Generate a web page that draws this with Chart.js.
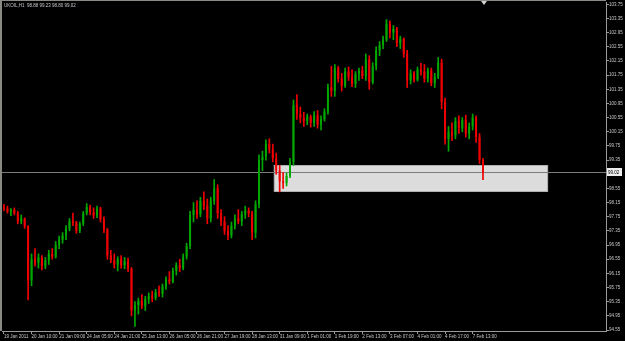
<!DOCTYPE html>
<html>
<head>
<meta charset="utf-8">
<script src="https://cdn.jsdelivr.net/npm/chart.js@4.4.0/dist/chart.umd.min.js"></script>
<style>
  html, body { margin: 0; padding: 0; background: #000; overflow: hidden; }
  canvas { display: block; }
</style>
</head>
<body>
<canvas id="myChart" width="625" height="341"></canvas>
<script>
// UKOIL candles, one per 2 hours
const opens = [
  98.02, 97.98, 97.90, 97.95, 97.85, 97.62, 97.70, 97.48, 95.95, 96.55,
  96.45, 96.60, 96.35, 96.52, 96.70, 96.62, 96.95, 97.10, 97.22, 97.42,
  97.62, 97.58, 97.35, 97.55, 97.85, 98.02, 97.88, 97.78, 97.98, 97.68,
  97.38, 96.65, 96.52, 96.40, 96.55, 96.38, 96.50, 96.28, 95.10, 95.25,
  95.38, 95.22, 95.42, 95.50, 95.45, 95.62, 95.58, 95.78, 95.98, 95.92,
  96.22, 96.38, 96.30, 96.62, 96.92, 97.80, 97.95, 97.82, 98.20, 98.05,
  97.70, 98.20, 98.55, 97.85, 97.62, 97.35, 97.22, 97.50, 97.70, 97.62,
  97.82, 97.92, 97.85, 97.30, 98.10, 99.35, 99.45, 99.80, 99.65, 99.40,
  99.05, 98.75, 98.70, 98.90, 99.30, 100.90, 100.65, 100.55, 100.45, 100.58,
  100.40, 100.62, 100.35, 100.50, 100.72, 101.40, 101.30, 101.95, 101.65, 101.45,
  101.85, 101.70, 101.50, 101.78, 101.88, 101.72, 102.20, 101.55, 102.00, 102.45,
  102.60, 102.75, 103.20, 102.95, 103.05, 102.65, 102.78, 102.35, 101.60, 101.80,
  101.62, 101.90, 101.85, 101.65, 101.88, 101.52, 101.70, 102.10, 101.00, 99.95,
  100.15, 100.05, 100.45, 100.25, 100.48, 100.10, 100.30, 100.55, 100.00, 99.35
];
const highs = [
  98.10, 98.05, 97.98, 98.00, 97.90, 97.80, 97.72, 97.50, 96.70, 96.85,
  96.70, 96.65, 96.60, 96.80, 96.85, 97.05, 97.20, 97.30, 97.50, 97.70,
  97.85, 97.62, 97.60, 97.90, 98.12, 98.08, 98.00, 98.05, 98.02, 97.75,
  97.42, 96.80, 96.70, 96.62, 96.65, 96.60, 96.58, 96.32, 95.35, 95.45,
  95.55, 95.50, 95.60, 95.65, 95.70, 95.80, 95.85, 96.05, 96.20, 96.30,
  96.45, 96.55, 96.70, 97.00, 97.90, 98.15, 98.20, 98.30, 98.45, 98.25,
  98.30, 98.80, 98.65, 97.95, 97.75, 97.50, 97.60, 97.80, 97.95, 97.90,
  98.05, 98.00, 97.90, 98.20, 99.50, 99.60, 99.92, 99.95, 99.80, 99.55,
  99.20, 99.00, 98.98, 99.40, 101.05, 101.20, 100.85, 100.70, 100.65, 100.62,
  100.72, 100.75, 100.60, 100.80, 101.50, 102.00, 102.05, 102.00, 101.80, 101.95,
  101.98, 101.90, 101.85, 101.95, 102.00, 102.35, 102.30, 102.10, 102.55, 102.70,
  102.85, 103.32, 103.28, 103.15, 103.10, 102.85, 102.80, 102.45, 101.90, 101.85,
  101.98, 102.08, 102.05, 101.95, 101.95, 101.80, 102.25, 102.20, 101.10, 100.30,
  100.40, 100.55, 100.60, 100.55, 100.62, 100.40, 100.65, 100.60, 100.10, 99.40
];
const lows = [
  97.92, 97.85, 97.78, 97.80, 97.55, 97.55, 97.42, 95.40, 95.80, 96.35,
  96.30, 96.25, 96.28, 96.40, 96.55, 96.58, 96.85, 97.00, 97.10, 97.35,
  97.50, 97.28, 97.30, 97.50, 97.80, 97.80, 97.70, 97.72, 97.60, 97.30,
  96.55, 96.45, 96.30, 96.22, 96.30, 96.28, 96.20, 94.95, 94.65, 95.00,
  95.15, 95.10, 95.30, 95.35, 95.40, 95.50, 95.48, 95.70, 95.85, 95.88,
  96.10, 96.20, 96.25, 96.55, 96.85, 97.60, 97.70, 97.75, 97.95, 97.55,
  97.60, 98.10, 97.70, 97.50, 97.25, 97.10, 97.15, 97.40, 97.55, 97.50,
  97.70, 97.75, 97.10, 97.15, 98.00, 99.05, 99.35, 99.55, 99.30, 98.95,
  98.45, 98.55, 98.62, 98.85, 99.20, 100.50, 100.40, 100.30, 100.35, 100.28,
  100.30, 100.25, 100.20, 100.45, 100.65, 101.15, 101.15, 101.55, 101.30, 101.40,
  101.60, 101.42, 101.40, 101.60, 101.65, 101.60, 101.35, 101.50, 101.90, 102.30,
  102.50, 102.70, 102.80, 102.75, 102.55, 102.50, 102.25, 101.40, 101.50, 101.55,
  101.58, 101.75, 101.55, 101.55, 101.45, 101.40, 101.65, 100.80, 99.80, 99.60,
  99.90, 99.95, 100.10, 100.15, 100.00, 99.95, 100.20, 99.85, 99.25, 98.80
];
const closes = [
  97.98, 97.90, 97.95, 97.85, 97.62, 97.70, 97.48, 95.95, 96.55, 96.45,
  96.60, 96.35, 96.52, 96.70, 96.62, 96.95, 97.10, 97.22, 97.42, 97.62,
  97.58, 97.35, 97.55, 97.85, 98.02, 97.88, 97.78, 97.98, 97.68, 97.38,
  96.65, 96.52, 96.40, 96.55, 96.38, 96.50, 96.28, 95.10, 95.25, 95.38,
  95.22, 95.42, 95.50, 95.45, 95.62, 95.58, 95.78, 95.98, 95.92, 96.22,
  96.38, 96.30, 96.62, 96.92, 97.80, 97.95, 97.82, 98.20, 98.05, 97.70,
  98.20, 98.55, 97.85, 97.62, 97.35, 97.22, 97.50, 97.70, 97.62, 97.82,
  97.92, 97.85, 97.30, 98.10, 99.35, 99.45, 99.80, 99.65, 99.40, 99.05,
  98.75, 98.70, 98.90, 99.30, 100.90, 100.65, 100.55, 100.45, 100.58, 100.40,
  100.62, 100.35, 100.50, 100.72, 101.40, 101.30, 101.95, 101.65, 101.45, 101.85,
  101.70, 101.50, 101.78, 101.88, 101.72, 102.20, 101.55, 102.00, 102.45, 102.60,
  102.75, 103.20, 102.95, 103.05, 102.65, 102.78, 102.35, 101.60, 101.80, 101.62,
  101.90, 101.85, 101.65, 101.88, 101.52, 101.70, 102.10, 101.00, 99.95, 100.15,
  100.05, 100.45, 100.25, 100.48, 100.10, 100.30, 100.55, 100.00, 99.35, 99.02
];

// one time label every 8 bars
const timeLabels = [
  "19 Jan 2011", "20 Jan 10:00", "21 Jan 09:00", "24 Jan 05:00", "24 Jan 21:00",
  "25 Jan 13:00", "26 Jan 05:00", "26 Jan 21:00", "27 Jan 19:00", "28 Jan 13:00",
  "31 Jan 09:00", "1 Feb 01:00", "1 Feb 19:00", "2 Feb 13:00", "3 Feb 07:00",
  "4 Feb 01:00", "4 Feb 17:00", "7 Feb 13:00"
];
const labelEvery = 8;

const priceTicks = [
  103.75, 103.35, 102.95, 102.55, 102.15, 101.75, 101.35, 100.95, 100.55, 100.15,
  99.75, 99.35, 98.95, 98.55, 98.15, 97.75, 97.35, 96.95, 96.55, 96.15,
  95.75, 95.35, 94.95, 94.55
];

const header = "UKOIL,H1  98.88 99.23 98.80 99.02";
const bidPrice = 99.02;
// rectangle object: bar index from/to, price low/high
const zoneBars = [78.3, 157.9];
const zonePrices = [98.46, 99.21];
const shiftBar = 139.3;

const upColor = "#00a800";
const downColor = "#f00000";
const textColor = "#c8c8c8";
const frameColor = "#9a9a9a";
const fontName = "'Liberation Sans', Arial, sans-serif";

const bars = closes.map((c, i) => i);
const candleColors = bars.map(i => closes[i] >= opens[i] ? upColor : downColor);

const decor = {
  id: "decor",
  beforeDatasetsDraw(chart) {
    const { ctx, chartArea, scales } = chart;
    const x = scales.x, y = scales.y;
    ctx.save();
    const x0 = x.getPixelForValue(zoneBars[0]);
    const x1 = x.getPixelForValue(zoneBars[1]);
    const y0 = y.getPixelForValue(zonePrices[1]);
    const y1 = y.getPixelForValue(zonePrices[0]);
    ctx.fillStyle = "#dcdcdc";
    ctx.fillRect(x0, y0, x1 - x0, y1 - y0);
    ctx.strokeStyle = "#b0b0b0";
    ctx.lineWidth = 1;
    ctx.strokeRect(Math.round(x0) + 0.5, Math.round(y0) + 0.5, Math.round(x1 - x0) - 1, Math.round(y1 - y0) - 1);

    const by = Math.round(y.getPixelForValue(bidPrice)) + 0.5;
    ctx.strokeStyle = "#7c7c7c";
    ctx.beginPath();
    ctx.moveTo(chartArea.left, by);
    ctx.lineTo(chartArea.right, by);
    ctx.stroke();
    ctx.restore();
  },
  afterDraw(chart) {
    const { ctx, chartArea, scales } = chart;
    const y = scales.y, x = scales.x;
    ctx.save();
    // window frame
    ctx.fillStyle = "#8a8a84";
    ctx.fillRect(0, 0, 2, chartArea.bottom);
    ctx.fillRect(0, 0, chartArea.right, 1);

    ctx.font = "4.5px " + fontName;
    ctx.textBaseline = "middle";
    ctx.fillStyle = textColor;
    ctx.fillText(header, 4, 6);

    // bid price label
    const by = Math.round(y.getPixelForValue(bidPrice));
    ctx.fillStyle = "#ececec";
    ctx.fillRect(chartArea.right + 1, by - 4, 15, 8);
    ctx.fillStyle = "#000";
    ctx.fillText(bidPrice.toFixed(2), chartArea.right + 2, by + 0.5);

    // chart shift marker
    const sx = x.getPixelForValue(shiftBar);
    ctx.fillStyle = "#d0d0d0";
    ctx.beginPath();
    ctx.moveTo(sx - 3, 1);
    ctx.lineTo(sx + 3, 1);
    ctx.lineTo(sx, 5);
    ctx.closePath();
    ctx.fill();
    ctx.restore();
  }
};

const bgPlugin = {
  id: "bg",
  beforeDraw(chart) {
    const ctx = chart.ctx;
    ctx.save();
    ctx.fillStyle = "#000";
    ctx.fillRect(0, 0, chart.width, chart.height);
    ctx.restore();
  }
};

const ctx = document.getElementById("myChart").getContext("2d");
const chart = new Chart(ctx, {
  type: "bar",
  data: {
    datasets: [
      {
        label: "wick",
        data: bars.map(i => ({ x: i, y: [lows[i], highs[i]] })),
        backgroundColor: candleColors,
        barThickness: 1,
        grouped: false,
        order: 2
      },
      {
        label: "body",
        data: bars.map(i => ({ x: i, y: [opens[i], closes[i]] })),
        backgroundColor: candleColors,
        barThickness: 2,
        minBarLength: 1,
        inflateAmount: 0,
        grouped: false,
        order: 1
      }
    ]
  },
  options: {
    responsive: false,
    animation: false,
    layout: { padding: { top: 2, left: 2, right: 0, bottom: 0 } },
    plugins: { legend: { display: false }, tooltip: { enabled: false } },
    scales: {
      x: {
        type: "linear",
        offset: false,
        min: -0.58,
        max: 174.7,
        grid: { drawOnChartArea: false, drawTicks: true, tickLength: 3, color: frameColor, offset: false },
        border: { display: true, color: frameColor },
        afterBuildTicks: s => { s.ticks = timeLabels.map((t, k) => ({ value: k * labelEvery })); },
        afterFit: s => { s.height = 10; s.paddingLeft = 0; s.paddingRight = 0; },
        ticks: {
          autoSkip: false,
          maxRotation: 0,
          align: "start",
          padding: 0,
          color: textColor,
          font: { size: 4.5, family: fontName },
          callback: v => timeLabels[Math.round(v / labelEvery)] || ""
        }
      },
      y: {
        type: "linear",
        position: "right",
        min: 94.522,
        max: 103.815,
        grid: { drawOnChartArea: false, drawTicks: true, tickLength: 3, color: frameColor },
        border: { display: true, color: frameColor },
        afterBuildTicks: s => { s.ticks = priceTicks.map(v => ({ value: v })); },
        afterFit: s => { s.width = 19; s.paddingTop = 0; s.paddingBottom = 0; },
        ticks: {
          padding: 0,
          color: textColor,
          font: { size: 4.5, family: fontName },
          callback: v => v.toFixed(2)
        }
      }
    }
  },
  plugins: [bgPlugin, decor]
});
</script>
</body>
</html>
